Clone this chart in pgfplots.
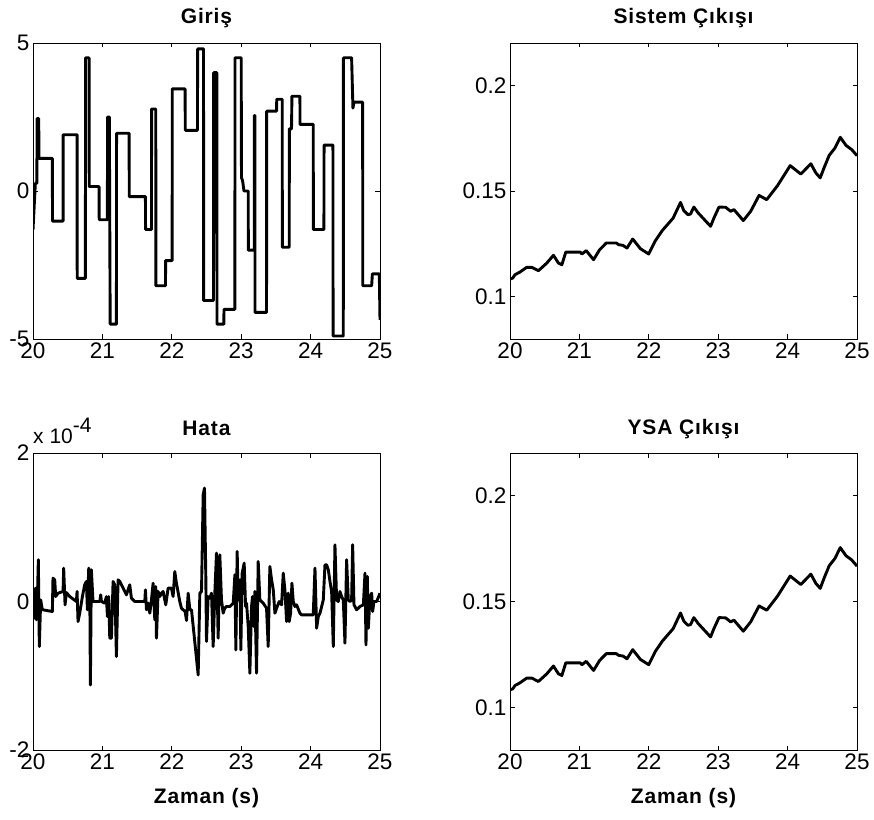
\documentclass[border=0pt]{standalone}
\usepackage{fontspec}
\setmainfont{Liberation Sans}
\newfontfamily\titlefont[LetterSpace=4]{Liberation Sans}
\usepackage{pgfplots}
\pgfplotsset{compat=1.18}
\usepackage{pgfplotstable}

\pgfplotstableread{
t v
20.000 -1.31
20.034 0.26
20.055 0.26
20.060 2.45
20.082 2.45
20.087 1.10
20.279 1.10
20.281 -1.02
20.433 -1.02
20.435 1.90
20.635 1.90
20.637 -2.95
20.755 -2.95
20.757 4.50
20.808 4.50
20.810 0.15
20.952 0.15
20.954 -0.97
21.072 -0.97
21.074 2.50
21.100 2.50
21.112 -4.50
21.202 -4.50
21.204 1.95
21.385 1.95
21.387 -0.19
21.620 -0.19
21.622 -1.30
21.707 -1.30
21.709 2.77
21.769 2.77
21.771 -3.20
21.909 -3.20
21.911 -2.35
22.005 -2.35
22.007 3.45
22.192 3.45
22.194 2.05
22.370 2.05
22.372 4.80
22.457 4.80
22.459 -3.70
22.601 -3.70
22.603 4.00
22.649 4.00
22.651 -4.50
22.750 -4.50
22.752 -4.00
22.909 -4.00
22.911 4.50
23.000 4.50
23.004 0.45
23.020 0.35
23.040 0.00
23.101 0.00
23.103 -2.00
23.188 -2.00
23.190 2.55
23.197 2.55
23.199 -4.10
23.365 -4.10
23.367 2.70
23.510 2.70
23.512 3.10
23.591 3.10
23.593 -1.90
23.692 -1.90
23.694 2.10
23.725 2.10
23.731 3.20
23.846 3.20
23.848 2.25
24.038 2.25
24.040 -1.30
24.192 -1.30
24.194 1.55
24.322 1.55
24.324 -4.90
24.471 -4.90
24.473 4.50
24.591 4.50
24.610 2.80
24.625 3.00
24.750 3.00
24.752 -3.20
24.880 -3.20
24.890 -2.80
24.990 -2.80
25.000 -4.35
}\giris

\pgfplotstableread{
t v
20.000 0.1084
20.039 0.1088
20.072 0.1104
20.145 0.1117
20.241 0.1139
20.313 0.1139
20.409 0.1123
20.530 0.1159
20.626 0.1196
20.698 0.1159
20.747 0.1151
20.804 0.1211
21.012 0.1211
21.036 0.1202
21.098 0.1218
21.204 0.1175
21.291 0.1222
21.387 0.1254
21.532 0.1254
21.566 0.1246
21.628 0.1243
21.686 0.1230
21.768 0.1273
21.879 0.1227
21.999 0.1202
22.095 0.1265
22.192 0.1312
22.351 0.1372
22.457 0.1446
22.505 0.1407
22.563 0.1388
22.601 0.1391
22.649 0.1424
22.712 0.1396
22.890 0.1333
22.938 0.1372
23.011 0.1424
23.107 0.1423
23.179 0.1404
23.227 0.1412
23.362 0.1360
23.468 0.1404
23.589 0.1479
23.699 0.1459
23.781 0.1494
23.854 0.1525
24.037 0.1620
24.191 0.1580
24.335 0.1629
24.408 0.1585
24.470 0.1562
24.528 0.1612
24.600 0.1669
24.682 0.1703
24.759 0.1754
24.841 0.1716
24.923 0.1696
25.000 0.1667
}\sistem

\pgfplotstableread{
t v
20.000 0.157e-4
20.014 -0.225e-4
20.034 0.180e-4
20.048 -0.247e-4
20.063 0.022e-4
20.077 0.562e-4
20.091 -0.607e-4
20.111 0.022e-4
20.130 -0.090e-4
20.144 -0.112e-4
20.279 -0.135e-4
20.288 0.315e-4
20.313 0.292e-4
20.327 0.067e-4
20.361 0.112e-4
20.433 0.135e-4
20.442 0.449e-4
20.462 -0.045e-4
20.481 0.121e-4
20.529 0.067e-4
20.625 0
20.635 0.135e-4
20.649 -0.270e-4
20.673 -0.157e-4
20.712 0.067e-4
20.745 0.225e-4
20.769 0.270e-4
20.784 -0.112e-4
20.803 0.449e-4
20.817 0.337e-4
20.827 -1.124e-4
20.841 0.427e-4
20.865 0
20.962 0
20.976 0.090e-4
20.986 0
21.034 -0.022e-4
21.058 0.067e-4
21.072 -0.202e-4
21.091 0.067e-4
21.106 -0.494e-4
21.130 -0.494e-4
21.154 0.270e-4
21.178 0.225e-4
21.202 -0.742e-4
21.226 0.292e-4
21.250 0.270e-4
21.298 0.180e-4
21.346 0.090e-4
21.394 0.225e-4
21.418 0.045e-4
21.466 0
21.611 0
21.620 0.157e-4
21.635 -0.112e-4
21.659 -0.022e-4
21.683 -0.157e-4
21.707 0.022e-4
21.731 0.247e-4
21.755 -0.247e-4
21.769 0.202e-4
21.779 -0.494e-4
21.803 0.135e-4
21.827 0.067e-4
21.851 0.112e-4
21.875 0.135e-4
21.913 -0.045e-4
21.947 0.180e-4
21.995 0.180e-4
22.019 0.067e-4
22.043 0.404e-4
22.067 0.247e-4
22.115 0
22.139 -0.090e-4
22.163 -0.112e-4
22.192 -0.135e-4
22.212 -0.256e-4
22.236 0.112e-4
22.260 -0.112e-4
22.284 -0.112e-4
22.380 -0.989e-4
22.404 0.112e-4
22.428 0.135e-4
22.452 1.438e-4
22.471 1.528e-4
22.490 0.337e-4
22.500 -0.539e-4
22.524 0.067e-4
22.548 0.045e-4
22.572 0.112e-4
22.596 -0.607e-4
22.620 0.112e-4
22.644 0.652e-4
22.668 -0.494e-4
22.692 0.629e-4
22.716 0.022e-4
22.740 -0.157e-4
22.764 -0.090e-4
22.788 -0.067e-4
22.837 -0.067e-4
22.885 -0.022e-4
22.909 0.360e-4
22.923 -0.652e-4
22.942 0.674e-4
22.957 0.022e-4
22.981 0.292e-4
22.995 -0.652e-4
23.014 0.382e-4
23.043 0.517e-4
23.063 -0.067e-4
23.077 -0.022e-4
23.101 -0.337e-4
23.125 -0.966e-4
23.149 -0.067e-4
23.163 0.067e-4
23.183 -0.337e-4
23.197 0.135e-4
23.221 -0.966e-4
23.245 0.539e-4
23.269 0.022e-4
23.317 -0.022e-4
23.365 -0.090e-4
23.389 -0.607e-4
23.413 0.472e-4
23.438 0.292e-4
23.462 0.157e-4
23.486 -0.157e-4
23.510 -0.090e-4
23.548 0
23.582 -0.045e-4
23.606 0.382e-4
23.630 0.157e-4
23.654 -0.270e-4
23.678 0.112e-4
23.692 -0.270e-4
23.712 -0.157e-4
23.731 0.247e-4
23.750 0
23.774 -0.067e-4
23.798 -0.045e-4
23.846 -0.157e-4
23.870 -0.180e-4
24.038 -0.180e-4
24.063 0.449e-4
24.087 -0.360e-4
24.111 -0.202e-4
24.135 -0.157e-4
24.183 0.022e-4
24.207 0.494e-4
24.231 0.494e-4
24.255 0.427e-4
24.279 0.270e-4
24.303 0.135e-4
24.327 -0.607e-4
24.351 0.764e-4
24.375 0.022e-4
24.399 0
24.423 0.135e-4
24.447 0.067e-4
24.471 0.022e-4
24.495 -0.562e-4
24.519 0.562e-4
24.543 0.022e-4
24.567 0
24.591 0.022e-4
24.606 0.764e-4
24.625 -0.045e-4
24.639 -0.067e-4
24.663 -0.112e-4
24.712 -0.067e-4
24.760 -0.045e-4
24.784 0.382e-4
24.798 -0.584e-4
24.817 0.337e-4
24.832 -0.360e-4
24.856 0.067e-4
24.880 0.112e-4
24.894 -0.135e-4
24.913 0
24.952 0
25.000 0.112e-4
}\hata

\pgfplotsset{
  matlab/.style={
    scale only axis, width=347pt, height=296pt,
    xmin=20, xmax=25, xtick={20,21,...,25},
    tick align=inside, major tick length=4.5pt,
    axis line style={line width=0.8pt},
    every tick/.style={black, line width=0.8pt},
    ticklabel style={font=\fontsize{22.5}{22.5}\selectfont},
    /pgf/number format/assume math mode=true,
    clip mode=individual,
    title style={font=\titlefont\bfseries\fontsize{21}{21}\selectfont, at={(0.5,1)}, anchor=base, yshift=13pt},
    xlabel style={font=\titlefont\bfseries\fontsize{21}{21}\selectfont, at={(0.5,0)}, anchor=base, yshift=-53pt},
  },
  mline/.style={black, line width=2.9pt, line join=round, mark=none},
}

\begin{document}
\begin{tikzpicture}
\path[use as bounding box] (0pt,0pt) rectangle (874pt,819pt);

\begin{axis}[matlab, at={(33pt,480pt)}, anchor=south west,
  ymin=-5, ymax=5, ytick={-5,0,5}, title={Giriş}]
\addplot[mline] table[x=t,y=v] {\giris};
\end{axis}

\begin{axis}[matlab, at={(510pt,480pt)}, anchor=south west,
  ymin=0.08, ymax=0.22, ytick={0.1,0.15,0.2}, scaled y ticks=false,
  title={Sistem Çıkışı}]
\addplot[mline] table[x=t,y=v] {\sistem};
\end{axis}

\begin{axis}[matlab, at={(33pt,69pt)}, anchor=south west, height=297pt,
  ymin=-2e-4, ymax=2e-4, ytick={-2e-4,0,2e-4},
  scaled y ticks=base 10:4, ytick scale label code/.code={},
  title style={yshift=-1pt},
  title={Hata}, xlabel={Zaman (s)}]
\addplot[mline] table[x=t,y=v] {\hata};
\node[anchor=base west, inner sep=0pt, font=\fontsize{21}{21}\selectfont] at (rel axis cs:0,1) [yshift=10pt] {x 10\raisebox{11pt}{-4}};
\end{axis}

\begin{axis}[matlab, at={(510pt,69pt)}, anchor=south west, height=297pt,
  ymin=0.08, ymax=0.22, ytick={0.1,0.15,0.2}, scaled y ticks=false,
  title={YSA Çıkışı}, xlabel={Zaman (s)}]
\addplot[mline] table[x=t,y=v] {\sistem};
\end{axis}
\end{tikzpicture}
\end{document}
